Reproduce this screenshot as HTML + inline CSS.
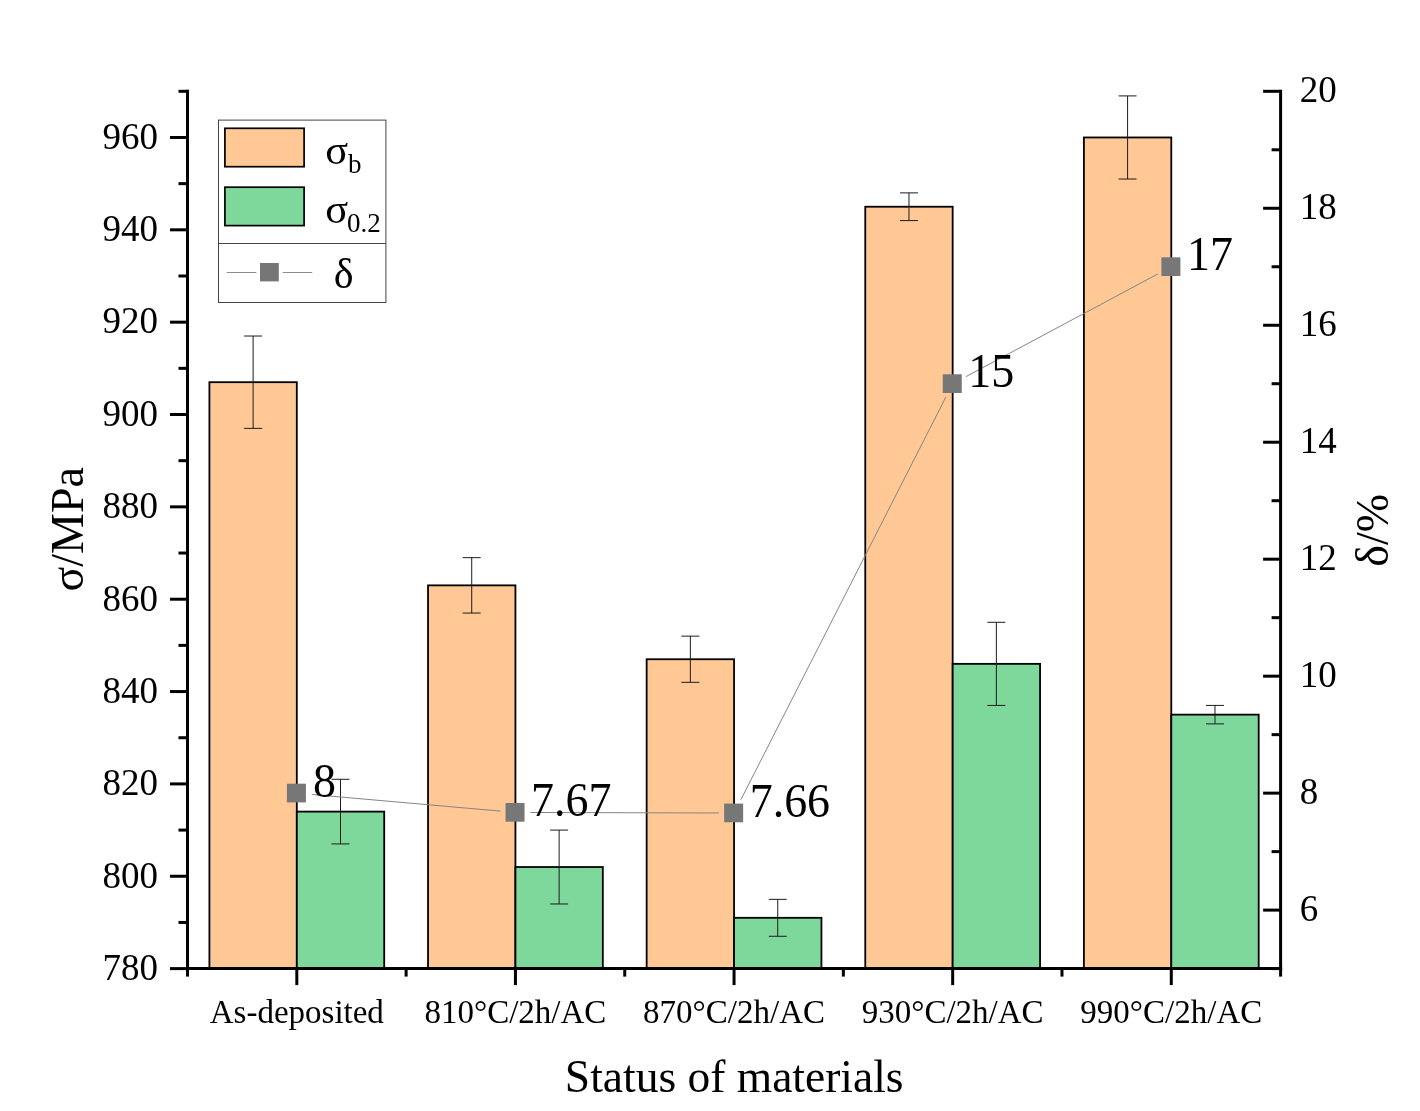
<!DOCTYPE html>
<html lang="en"><head><meta charset="utf-8"><title>Status of materials</title>
<style>html,body{margin:0;padding:0;background:#fff}svg{display:block;will-change:transform}text{font-family:"Liberation Serif","Times New Roman",serif;fill:#000}</style></head><body>
<svg width="1420" height="1111" viewBox="0 0 1420 1111">
<rect width="1420" height="1111" fill="#fff"/>
<g stroke="#000" stroke-width="1.8">
<rect x="209.41" y="382.19" width="87.40" height="586.41" fill="#FFC894"/>
<rect x="428.03" y="585.36" width="87.40" height="383.24" fill="#FFC894"/>
<rect x="646.65" y="659.24" width="87.40" height="309.36" fill="#FFC894"/>
<rect x="865.27" y="206.73" width="87.40" height="761.87" fill="#FFC894"/>
<rect x="1083.89" y="137.47" width="87.40" height="831.13" fill="#FFC894"/>
<rect x="296.81" y="811.61" width="87.40" height="156.99" fill="#7ED89C"/>
<rect x="515.43" y="867.02" width="87.40" height="101.58" fill="#7ED89C"/>
<rect x="734.05" y="917.81" width="87.40" height="50.79" fill="#7ED89C"/>
<rect x="952.67" y="663.85" width="87.40" height="304.75" fill="#7ED89C"/>
<rect x="1171.29" y="714.64" width="87.40" height="253.96" fill="#7ED89C"/>
</g>
<g stroke="#1c1c1c" stroke-width="1" fill="none">
<path d="M253.11 336.02V428.37M244.11 336.02H262.11M244.11 428.37H262.11"/>
<path d="M471.73 557.65V613.06M462.73 557.65H480.73M462.73 613.06H480.73"/>
<path d="M690.35 636.15V682.32M681.35 636.15H699.35M681.35 682.32H699.35"/>
<path d="M908.97 192.88V220.59M899.97 192.88H917.97M899.97 220.59H917.97"/>
<path d="M1127.59 95.92V179.03M1118.59 95.92H1136.59M1118.59 179.03H1136.59"/>
<path d="M340.51 779.29V843.93M331.51 779.29H349.51M331.51 843.93H349.51"/>
<path d="M559.13 830.08V903.96M550.13 830.08H568.13M550.13 903.96H568.13"/>
<path d="M777.75 899.34V936.28M768.75 899.34H786.75M768.75 936.28H786.75"/>
<path d="M996.37 622.30V705.41M987.37 622.30H1005.37M987.37 705.41H1005.37"/>
<path d="M1214.99 705.41V723.88M1205.99 705.41H1223.99M1205.99 723.88H1223.99"/>
</g>
<g stroke="#858585" stroke-width="1" fill="none">
<line x1="311.75" y1="794.46" x2="500.49" y2="811.12"/>
<line x1="530.43" y1="812.48" x2="719.05" y2="812.99"/>
<line x1="740.86" y1="799.66" x2="945.86" y2="397.10"/>
<line x1="965.90" y1="376.66" x2="1158.06" y2="273.84"/>
</g>
<g fill="#777777">
<rect x="286.91" y="783.69" width="19" height="18.7"/>
<rect x="505.53" y="802.99" width="19" height="18.7"/>
<rect x="724.15" y="803.58" width="19" height="18.7"/>
<rect x="942.77" y="374.28" width="19" height="18.7"/>
<rect x="1161.39" y="257.31" width="19" height="18.7"/>
</g>
<g font-size="46">
<text transform="translate(313.11 796.74) scale(1 1.04)">8</text>
<text transform="translate(531.03 816.04) scale(1 1.04)">7.67</text>
<text transform="translate(749.65 816.63) scale(1 1.04)">7.66</text>
<text transform="translate(968.27 387.33) scale(1 1.04)">15</text>
<text transform="translate(1186.89 270.36) scale(1 1.04)">17</text>
</g>
<g stroke="#000" stroke-width="3" fill="none" stroke-linecap="butt">
<path d="M187.5 89.8V970.1"/>
<path d="M1280.6 89.8V970.1"/>
<path d="M186.0 968.6H1282.1"/>
<path d="M170.00 968.60H187.5"/>
<path d="M178.50 922.43H187.5"/>
<path d="M170.00 876.25H187.5"/>
<path d="M178.50 830.08H187.5"/>
<path d="M170.00 783.91H187.5"/>
<path d="M178.50 737.73H187.5"/>
<path d="M170.00 691.56H187.5"/>
<path d="M178.50 645.38H187.5"/>
<path d="M170.00 599.21H187.5"/>
<path d="M178.50 553.04H187.5"/>
<path d="M170.00 506.86H187.5"/>
<path d="M178.50 460.69H187.5"/>
<path d="M170.00 414.52H187.5"/>
<path d="M178.50 368.34H187.5"/>
<path d="M170.00 322.17H187.5"/>
<path d="M178.50 275.99H187.5"/>
<path d="M170.00 229.82H187.5"/>
<path d="M178.50 183.65H187.5"/>
<path d="M170.00 137.47H187.5"/>
<path d="M178.50 91.30H187.5"/>
<path d="M1271.60 968.60H1280.6"/>
<path d="M1263.10 910.11H1280.6"/>
<path d="M1271.60 851.63H1280.6"/>
<path d="M1263.10 793.14H1280.6"/>
<path d="M1271.60 734.65H1280.6"/>
<path d="M1263.10 676.17H1280.6"/>
<path d="M1271.60 617.68H1280.6"/>
<path d="M1263.10 559.19H1280.6"/>
<path d="M1271.60 500.71H1280.6"/>
<path d="M1263.10 442.22H1280.6"/>
<path d="M1271.60 383.73H1280.6"/>
<path d="M1263.10 325.25H1280.6"/>
<path d="M1271.60 266.76H1280.6"/>
<path d="M1263.10 208.27H1280.6"/>
<path d="M1271.60 149.79H1280.6"/>
<path d="M1263.10 91.30H1280.6"/>
<path d="M296.81 968.6V985.1"/>
<path d="M515.43 968.6V985.1"/>
<path d="M734.05 968.6V985.1"/>
<path d="M952.67 968.6V985.1"/>
<path d="M1171.29 968.6V985.1"/>
<path d="M187.50 968.6V976.6"/>
<path d="M406.12 968.6V976.6"/>
<path d="M624.74 968.6V976.6"/>
<path d="M843.36 968.6V976.6"/>
<path d="M1061.98 968.6V976.6"/>
<path d="M1280.60 968.6V976.6"/>
</g>
<g font-size="37" text-anchor="end">
<text transform="translate(158 979.90) scale(1 1.05)">780</text>
<text transform="translate(158 887.55) scale(1 1.05)">800</text>
<text transform="translate(158 795.21) scale(1 1.05)">820</text>
<text transform="translate(158 702.86) scale(1 1.05)">840</text>
<text transform="translate(158 610.51) scale(1 1.05)">860</text>
<text transform="translate(158 518.16) scale(1 1.05)">880</text>
<text transform="translate(158 425.82) scale(1 1.05)">900</text>
<text transform="translate(158 333.47) scale(1 1.05)">920</text>
<text transform="translate(158 241.12) scale(1 1.05)">940</text>
<text transform="translate(158 148.77) scale(1 1.05)">960</text>
</g>
<g font-size="37" text-anchor="start">
<text transform="translate(1299.8 921.11) scale(1 1.05)">6</text>
<text transform="translate(1299.8 804.14) scale(1 1.05)">8</text>
<text transform="translate(1299.8 687.17) scale(1 1.05)">10</text>
<text transform="translate(1299.8 570.19) scale(1 1.05)">12</text>
<text transform="translate(1299.8 453.22) scale(1 1.05)">14</text>
<text transform="translate(1299.8 336.25) scale(1 1.05)">16</text>
<text transform="translate(1299.8 219.27) scale(1 1.05)">18</text>
<text transform="translate(1299.8 102.30) scale(1 1.05)">20</text>
</g>
<g font-size="33" text-anchor="middle">
<text x="296.81" y="1022.5">As-deposited</text>
<text x="515.43" y="1022.5">810°C/2h/AC</text>
<text x="734.05" y="1022.5">870°C/2h/AC</text>
<text x="952.67" y="1022.5">930°C/2h/AC</text>
<text x="1171.29" y="1022.5">990°C/2h/AC</text>
</g>
<text x="734.2" y="1091.5" font-size="45.5" text-anchor="middle">Status of materials</text>
<text transform="translate(83 529.3) rotate(-90)" font-size="46" text-anchor="middle">σ/MPa</text>
<text transform="translate(1387.8 530.3) rotate(-90)" font-size="46" text-anchor="middle">δ/%</text>
<g fill="#fff" stroke="#454545" stroke-width="1"><rect x="218.5" y="120.1" width="167.4" height="182.4"/><path d="M218.5 243.5H385.9"/></g>
<rect x="224.9" y="128.3" width="79.2" height="38.4" fill="#FFC894" stroke="#000" stroke-width="1.7"/>
<rect x="224.9" y="187.2" width="79.2" height="38.4" fill="#7ED89C" stroke="#000" stroke-width="1.7"/>
<path d="M226.7 272.5H256.4M282.7 272.5H312.3" stroke="#8c8c8c" stroke-width="1"/>
<rect x="260" y="263" width="18.8" height="18.4" fill="#767676"/>
<text transform="translate(325.2 164) scale(1.09 1)" font-size="39">σ</text><text x="348" y="173" font-size="27">b</text>
<text transform="translate(325.2 223) scale(1.09 1)" font-size="39">σ</text><text x="347" y="232" font-size="27">0.2</text>
<text x="333.8" y="287.8" font-size="42">δ</text>
</svg></body></html>
